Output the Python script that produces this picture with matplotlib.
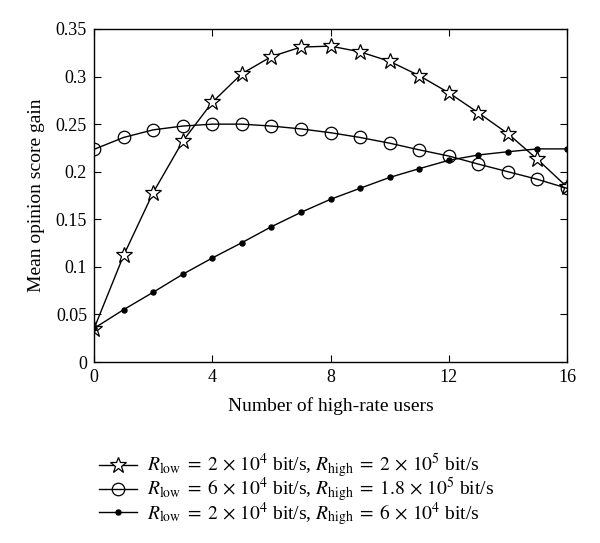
import numpy as np
import matplotlib
matplotlib.use("Agg")
import matplotlib.pyplot as plt

plt.rcParams['font.family'] = ['Liberation Serif', 'DejaVu Serif']
plt.rcParams['mathtext.fontset'] = 'stix'

users = np.arange(17)
gain_star = [0.035, 0.112, 0.178, 0.232, 0.273, 0.303, 0.321, 0.331, 0.332,
             0.326, 0.316, 0.301, 0.283, 0.262, 0.240, 0.213, 0.184]
gain_circle = [0.2235, 0.236, 0.244, 0.248, 0.250, 0.250, 0.248, 0.245, 0.241,
               0.236, 0.230, 0.223, 0.2165, 0.208, 0.200, 0.192, 0.1826]
gain_dot = [0.0354, 0.055, 0.0733, 0.0922, 0.1093, 0.1254, 0.1422, 0.1573, 0.171,
            0.1826, 0.194, 0.2032, 0.212, 0.2176, 0.221, 0.224, 0.224]

labels = [r'$R_{\mathrm{low}}\;=\;2\,\times\,10^4$ bit/s, $R_{\mathrm{high}}\;=\;2\,\times\,10^5$ bit/s',
          r'$R_{\mathrm{low}}\;=\;6\,\times\,10^4$ bit/s, $R_{\mathrm{high}}\;=\;1.8\,\times\,10^5$ bit/s',
          r'$R_{\mathrm{low}}\;=\;2\,\times\,10^4$ bit/s, $R_{\mathrm{high}}\;=\;6\,\times\,10^4$ bit/s']

fig = plt.figure(figsize=(6, 5.43), dpi=100)
ax = fig.add_axes([0.1567, 0.3333, 0.7883, 0.6133])

ax.plot(users, gain_star, color='black', lw=1.0, marker='*', ms=12,
        mfc='white', mec='black', mew=0.9, label=labels[0])
ax.plot(users, gain_circle, color='black', lw=1.0, marker='o', ms=9,
        mfc='none', mec='black', mew=0.9, label=labels[1])
ax.plot(users, gain_dot, color='black', lw=1.0, marker='o', ms=3.6,
        mfc='black', mec='black', label=labels[2])

ax.set_xlim(0, 16)
ax.set_ylim(0, 0.35)
ax.set_xticks([0, 4, 8, 12, 16])
ax.set_yticks(np.arange(0, 0.351, 0.05))
ax.set_yticklabels(['0', '0.05', '0.1', '0.15', '0.2', '0.25', '0.3', '0.35'])
ax.tick_params(direction='in', top=True, right=True, labelsize=13, length=5, pad=5)
for s in ax.spines.values():
    s.set_linewidth(1.0)
ax.set_xlabel('Number of high-rate users', fontsize=14, labelpad=8)
ax.set_ylabel('Mean opinion score gain', fontsize=14, labelpad=8)

fig.legend(loc='upper left', bbox_to_anchor=(0.135, 0.2), frameon=False,
           fontsize=14, handlelength=2.0, labelspacing=-0.22, handletextpad=0.5)

fig.savefig('out.png', dpi=100)
